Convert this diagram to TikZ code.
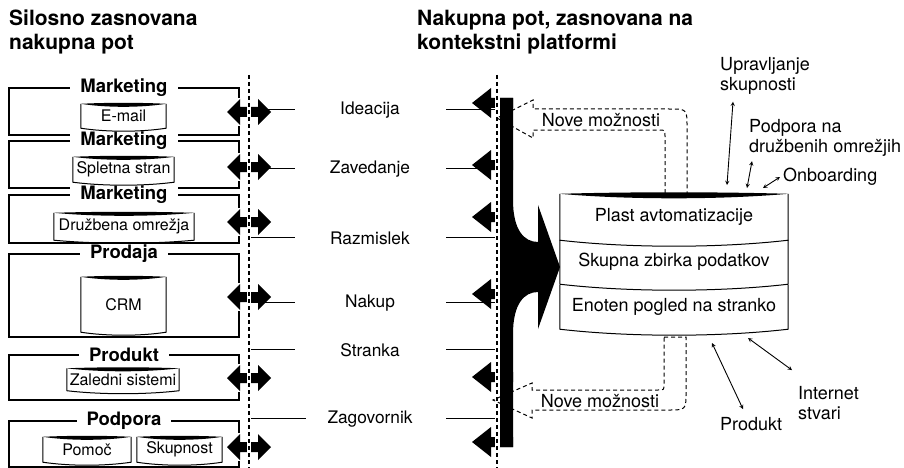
\documentclass[tikz,border=0pt]{standalone}
\usepackage{fontspec}
\setmainfont{TeX Gyre Heros}
\usepackage{tikz}
\usetikzlibrary{calc}

\newcommand{\dbtop}[2]{\fill (#1.north west) .. controls ($(#1.north west)!0.3!(#1.north east)+(0,-#2/3)$) and ($(#1.north west)!0.7!(#1.north east)+(0,-#2/3)$) .. (#1.north east) .. controls ($(#1.north west)!0.7!(#1.north east)+(0,#2)$) and ($(#1.north west)!0.3!(#1.north east)+(0,#2)$) .. (#1.north west) -- cycle;}
\newcommand{\dbside}[2]{\draw[line width=1] (#1.north west) -- (#1.south west) .. controls ($(#1.south west)!0.3!(#1.south east)+(0,#2)$) and ($(#1.south west)!0.7!(#1.south east)+(0,#2)$) .. (#1.south east) -- (#1.north east);}
\newcommand{\dblarrow}[1]{\fill (227,#1) -- (240,#1-13) -- (240,#1-5) -- (258,#1-5) -- (258,#1-13) -- (271,#1) -- (258,#1+13) -- (258,#1+5) -- (240,#1+5) -- (240,#1+13) -- cycle;}
\newcommand{\backarrow}[1]{\fill (472,#1) -- (491,#1-15) -- (491,#1-5) -- (513,#1-5) -- (513,#1+5) -- (491,#1+5) -- (491,#1+15) -- cycle;}

\begin{document}
\begin{tikzpicture}[x=1pt,y=-1pt,
  ttl/.style={font=\fontsize{21}{23.5}\selectfont\bfseries, align=left, anchor=north west, inner sep=0},
  lbl/.style={font=\fontsize{17.3}{20}\selectfont},
  rlbl/.style={font=\fontsize{18}{20}\selectfont, align=left, anchor=west, inner sep=0},
  team/.style={font=\fontsize{18.5}{22}\selectfont\bfseries, fill=white, inner xsep=10, inner ysep=0},
  silo/.style={draw, line width=1.1, minimum width=230, inner sep=0},
  db/.style={inner sep=0, font=\fontsize{16}{19}\selectfont},
  layer/.style={inner sep=0, minimum width=228, font=\fontsize{18}{21}\selectfont},
  lane/.style={line width=0.9},
  vline/.style={line width=1.6, dash pattern=on 4 off 3},
  opp/.style={line width=1, dash pattern=on 4 off 3},
  both/.style={<->, >=stealth, line width=0.9}]
\useasboundingbox (0,0) rectangle (904,468);

% titles
\node[ttl] (lefttitle) at (9,10) {Silosno zasnovana\\nakupna pot};
\node[ttl] (righttitle) at (417,10) {Nakupna pot, zasnovana na\\kontekstni platformi};

% silos
\node[silo, minimum height=47] (mkt1) at (124,111.5) {};
\node[silo, minimum height=47] (mkt2) at (124,164.5) {};
\node[silo, minimum height=48] (mkt3) at (124,219) {};
\node[silo, minimum height=83] (prodaja) at (124,295.5) {};
\node[silo, minimum height=45] (produkt) at (124,377.5) {};
\node[silo, minimum height=46] (podpora) at (124,444) {};
\node[team] (mkt1t) at (mkt1.north) {Marketing};
\node[team] (mkt2t) at (mkt2.north) {Marketing};
\node[team] (mkt3t) at (mkt3.north) {Marketing};
\node[team] (prodajat) at (prodaja.north) {Prodaja};
\node[team] (produktt) at (produkt.north) {Produkt};
\node[team] (podporat) at (podpora.north) {Podpora};

\node[db, minimum width=85, minimum height=24] (email) at (123.5,116) {E-mail};
\node[db, minimum width=101, minimum height=25] (splet) at (123.5,169.5) {Spletna stran};
\node[db, minimum width=140, minimum height=27] (druzb) at (124,226.5) {Družbena omrežja};
\node[db, minimum width=85, minimum height=55] (crm) at (123.5,304.5) {CRM};
\node[db, minimum width=112, minimum height=22] (zaledni) at (123,379.5) {Zaledni sistemi};
\node[db, minimum width=88, minimum height=25] (pomoc) at (87,449.5) {Pomoč};
\node[db, minimum width=85, minimum height=25] (skup) at (179.5,449.5) {Skupnost};
\foreach \n in {email,splet,druzb,crm,zaledni,pomoc,skup} {\dbside{\n}{4} \dbtop{\n}{4}}

% stages
\foreach \ly/\tx/\le/\name in {109/Ideacija/295/idea, 168/Zavedanje/295/zaved, 237/Razmislek/295/razm, 302/Nakup/295/nakup, 349/Stranka/295/stranka, 418/Zagovornik/306/zagov} {
  \node[lbl] (\name) at (370,\ly+1) {\tx};
  \draw[lane] (249,\ly) -- (\le,\ly) (446,\ly) -- (497,\ly);
}

\foreach \y in {112,167,222,297,378,447} {
  \fill[white] (235,\y-14) rectangle (248,\y+14);
  \dblarrow{\y}
}

\fill (497,98) -- (513,98) -- (513,200) .. controls (513,230) and (524,242) .. (538,242) -- (538,205) -- (560,267) -- (538,329) -- (538,292) .. controls (524,292) and (513,304) .. (513,334) -- (513,447) -- (497,447) -- cycle;
\foreach \y in {103,165,217,294,377,442} {\backarrow{\y}}

\draw[white, line width=3.5] (249,75) -- (249,468);
\draw[white, line width=5] (497,75) -- (497,468);
\draw[vline] (249,75) -- (249,468);
\draw[vline] (497,75) -- (497,468);

% platform
\node[layer, minimum height=46] (plast) at (674,217) {Plast avtomatizacije};
\node[layer, minimum height=44] (zbirka) at (674,262) {Skupna zbirka podatkov};
\node[layer, minimum height=44] (pogled) at (674,307) {Enoten pogled na stranko};
\dbside{plast}{8} \dbside{zbirka}{8} \dbside{pogled}{8} \dbtop{plast}{6}

\draw[opp] (665,193) -- (665,136) .. controls (665,130) .. (659,130) -- (533,130) -- (533,138) -- (497,118) -- (533,100) -- (533,109) -- (669,109) .. controls (687,109) .. (687,127) -- (687,193);
\node[rlbl, anchor=center] (newtop) at (601,120) {Nove možnosti};
\draw[opp] (664,337) -- (686,337) -- (686,392) .. controls (686,410) .. (668,410) -- (532,410) -- (532,418) -- (493,400) -- (532,383) -- (532,390) -- (658,390) .. controls (664,390) .. (664,384) -- cycle;
\node[rlbl, anchor=center] (newbot) at (600,401) {Nove možnosti};

% channels
\node[rlbl] (uprav) at (720,76) {Upravljanje\\skupnosti};
\node[rlbl] (socpod) at (749,137.5) {Podpora na\\družbenih omrežjih};
\node[rlbl] (onb) at (783,177) {Onboarding};
\node[rlbl] (iot) at (798,403) {Internet\\stvari};
\node[rlbl] (prod) at (720,424) {Produkt};
\coordinate (c1) at (727,185);
\coordinate (c2) at (747,188);
\coordinate (c3) at (763,188);
\coordinate (c4) at (712,343);
\coordinate (c5) at (748,338);
\draw[both] (uprav.south west) ++(13,7) -- (c1);
\draw[both] (socpod.south west) ++(3,5) -- (c2);
\draw[both] (onb.west) ++(-3,0) -- (c3);
\draw[both] (prod.north west) ++(23,-8) -- (c4);
\draw[both] (iot.north west) ++(-6,-16) -- (c5);
\end{tikzpicture}
\end{document}
